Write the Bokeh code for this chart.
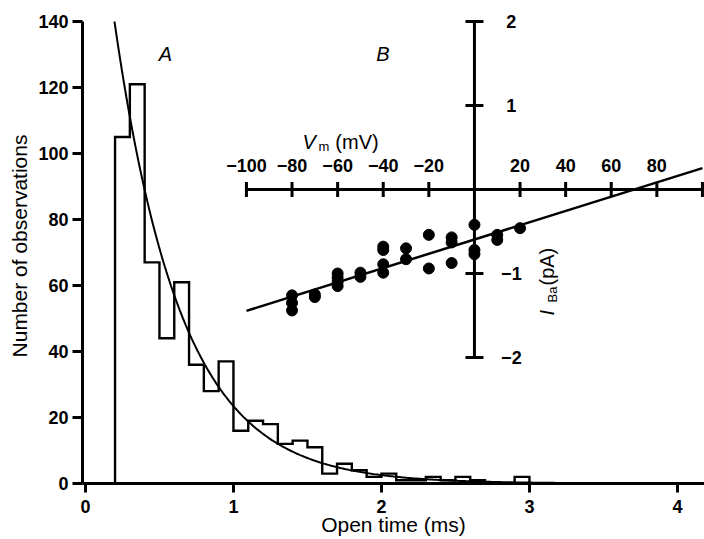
import numpy as np
from bokeh.plotting import figure
from bokeh.models import Range1d, FixedTicker
from bokeh.embed import file_html
from bokeh.resources import INLINE
from bokeh.core.properties import value

# ---------------- Panel A: open-time histogram ----------------
bin_start = 0.2      # ms
bin_width = 0.1      # ms
counts = [105, 121, 67, 44, 61, 36, 28, 37, 16, 19, 18, 12, 13, 11,
          3, 6, 4, 2, 3, 1, 1, 2, 1, 2, 1, 0, 0, 2]
x_ticks = [0, 1, 2, 3, 4]
y_ticks = [0, 20, 40, 60, 80, 100, 120, 140]

# single-exponential fit
fit_amp = 140.0      # observations at fit_t0
fit_t0 = 0.196       # ms
fit_tau = 0.45       # ms

# ---------------- Panel B: I-V relation ----------------
iv_vm = [-80, -80, -80, -70, -70, -60, -60, -60, -60, -50, -50,
         -40, -40, -40, -40, -30, -30, -20, -20, -10, -10, -10,
         0, 0, 0, 10, 10, 20]
iv_iba = [-1.26, -1.35, -1.44, -1.25, -1.28, -1.00, -1.05, -1.10, -1.15, -0.99, -1.04,
          -0.68, -0.72, -0.89, -0.99, -0.70, -0.83, -0.54, -0.94, -0.57, -0.63, -0.875,
          -0.42, -0.72, -0.77, -0.54, -0.60, -0.46]
line_slope = 0.0085  # pA / mV
line_erev = 70.0     # mV
line_vm_span = [-100, 100]

vm_ticks = [-100, -80, -60, -40, -20, 20, 40, 60, 80, 100]
vm_tick_labels = ["\u2212100", "\u221280", "\u221260", "\u221240", "\u221220",
                  "20", "40", "60", "80", ""]
i_ticks = [-2, -1, 1, 2]
i_tick_labels = ["\u22122", "\u22121", "1", "2"]

FONT = "Liberation Sans"
INK = "#000000"

p = figure(width=704, height=539,
           x_range=Range1d(-0.02, 4.183), y_range=Range1d(0, 143.94),
           output_backend="svg", toolbar_location=None,
           min_border_left=82, min_border_right=0,
           min_border_top=8, min_border_bottom=56)
p.extra_x_ranges = {"vm": Range1d(-171.9, 100.9)}
p.extra_y_ranges = {"iba": Range1d(-3.5, 2.155)}

p.outline_line_color = None
p.xgrid.visible = False
p.ygrid.visible = False
p.background_fill_color = "white"
p.border_fill_color = "white"

for ax in (p.xaxis[0], p.yaxis[0]):
    ax.axis_line_width = 3
    ax.axis_line_color = INK
    ax.major_tick_line_width = 3
    ax.major_tick_line_color = INK
    ax.major_tick_in = 0
    ax.minor_tick_in = 0
    ax.minor_tick_out = 0
    ax.major_label_text_font = FONT
    ax.major_label_text_font_style = "bold"
    ax.major_label_text_font_size = "18px"
    ax.major_label_text_color = INK
    ax.axis_label_text_font = FONT
    ax.axis_label_text_font_style = "normal"
    ax.axis_label_text_font_size = "21px"
    ax.axis_label_text_color = INK
p.xaxis.ticker = FixedTicker(ticks=x_ticks, minor_ticks=[])
p.yaxis.ticker = FixedTicker(ticks=y_ticks, minor_ticks=[])
p.yaxis.bounds = (0, 140)
p.xaxis.major_tick_out = 9
p.yaxis.major_tick_out = 10
p.xaxis.major_label_standoff = 7
p.yaxis.major_label_standoff = 4
p.xaxis.axis_label = "Open time (ms)"
p.yaxis.axis_label = "Number of observations"
p.xaxis.axis_label_standoff = -3
p.yaxis.axis_label_standoff = 4

# histogram outline
edges = [bin_start + bin_width * i for i in range(len(counts) + 1)]
hx, hy = [edges[0]], [0]
for i, c in enumerate(counts):
    hx += [edges[i], edges[i + 1]]
    hy += [c, c]
hx.append(edges[-1])
hy.append(0)
p.line(hx, hy, line_color=INK, line_width=2.4, line_join="miter")

# exponential fit
t = np.linspace(fit_t0, 4.2, 400)
p.line(t, fit_amp * np.exp(-(t - fit_t0) / fit_tau), line_color=INK, line_width=2)

# panel letters
p.text(x=[0.54, 2.01], y=[130.3, 130.3], text=["A", "B"],
       text_font=value(FONT), text_font_size="20px", text_font_style="italic",
       text_align="center", text_baseline="middle", text_color=INK)

# ---------- inset B drawn on extra ranges ----------
R = dict(x_range_name="vm", y_range_name="iba")
p.segment(x0=[min(vm_ticks)], y0=[0], x1=[max(vm_ticks)], y1=[0],
          line_color=INK, line_width=3, **R)
p.segment(x0=[0], y0=[min(i_ticks)], x1=[0], y1=[max(i_ticks)],
          line_color=INK, line_width=3, **R)
p.scatter(vm_ticks, [0] * len(vm_ticks), marker="dash", angle=np.pi / 2, size=15,
          line_color=INK, line_width=3, **R)
p.scatter([0] * len(i_ticks), i_ticks, marker="dash", size=18,
          line_color=INK, line_width=3, **R)
p.text(x=vm_ticks, y=[0.286] * len(vm_ticks), text=vm_tick_labels,
       text_font=value(FONT), text_font_size="18px", text_font_style="bold",
       text_align="center", text_baseline="middle", text_color=INK, **R)
p.text(x=[16.2] * len(i_ticks), y=i_ticks, text=i_tick_labels,
       text_font=value(FONT), text_font_size="18px", text_font_style="bold",
       text_align="center", text_baseline="middle", text_color=INK, **R)

# V_m (mV)
p.text(x=[-75.4], y=[0.56], text=["V"], text_font=value(FONT), text_font_size="20px",
       text_font_style="italic", text_align="left", text_baseline="alphabetic",
       text_color=INK, **R)
p.text(x=[-68.4], y=[0.51], text=["m"], text_font=value(FONT), text_font_size="13px",
       text_align="left", text_baseline="alphabetic", text_color=INK, **R)
p.text(x=[-61.0], y=[0.56], text=["(mV)"], text_font=value(FONT), text_font_size="20px",
       text_align="left", text_baseline="alphabetic", text_color=INK, **R)

# I_Ba (pA), rotated
p.text(x=[32.0], y=[-1.50], text=["I"], text_font=value(FONT), text_font_size="20px",
       text_font_style="italic", angle=np.pi / 2, text_align="left",
       text_baseline="alphabetic", text_color=INK, **R)
p.text(x=[34.2], y=[-1.345], text=["Ba"], text_font=value(FONT), text_font_size="13px",
       angle=np.pi / 2, text_align="left", text_baseline="alphabetic",
       text_color=INK, **R)
p.text(x=[32.0], y=[-1.143], text=["(pA)"], text_font=value(FONT), text_font_size="20px",
       angle=np.pi / 2, text_align="left", text_baseline="alphabetic",
       text_color=INK, **R)

# linear fit and data points
p.line(line_vm_span, [line_slope * (v - line_erev) for v in line_vm_span],
       line_color=INK, line_width=2.5, **R)
p.scatter(iv_vm, iv_iba, marker="circle", size=11, fill_color=INK, line_color=INK, **R)

open("out.html", "w").write(file_html(p, INLINE))
